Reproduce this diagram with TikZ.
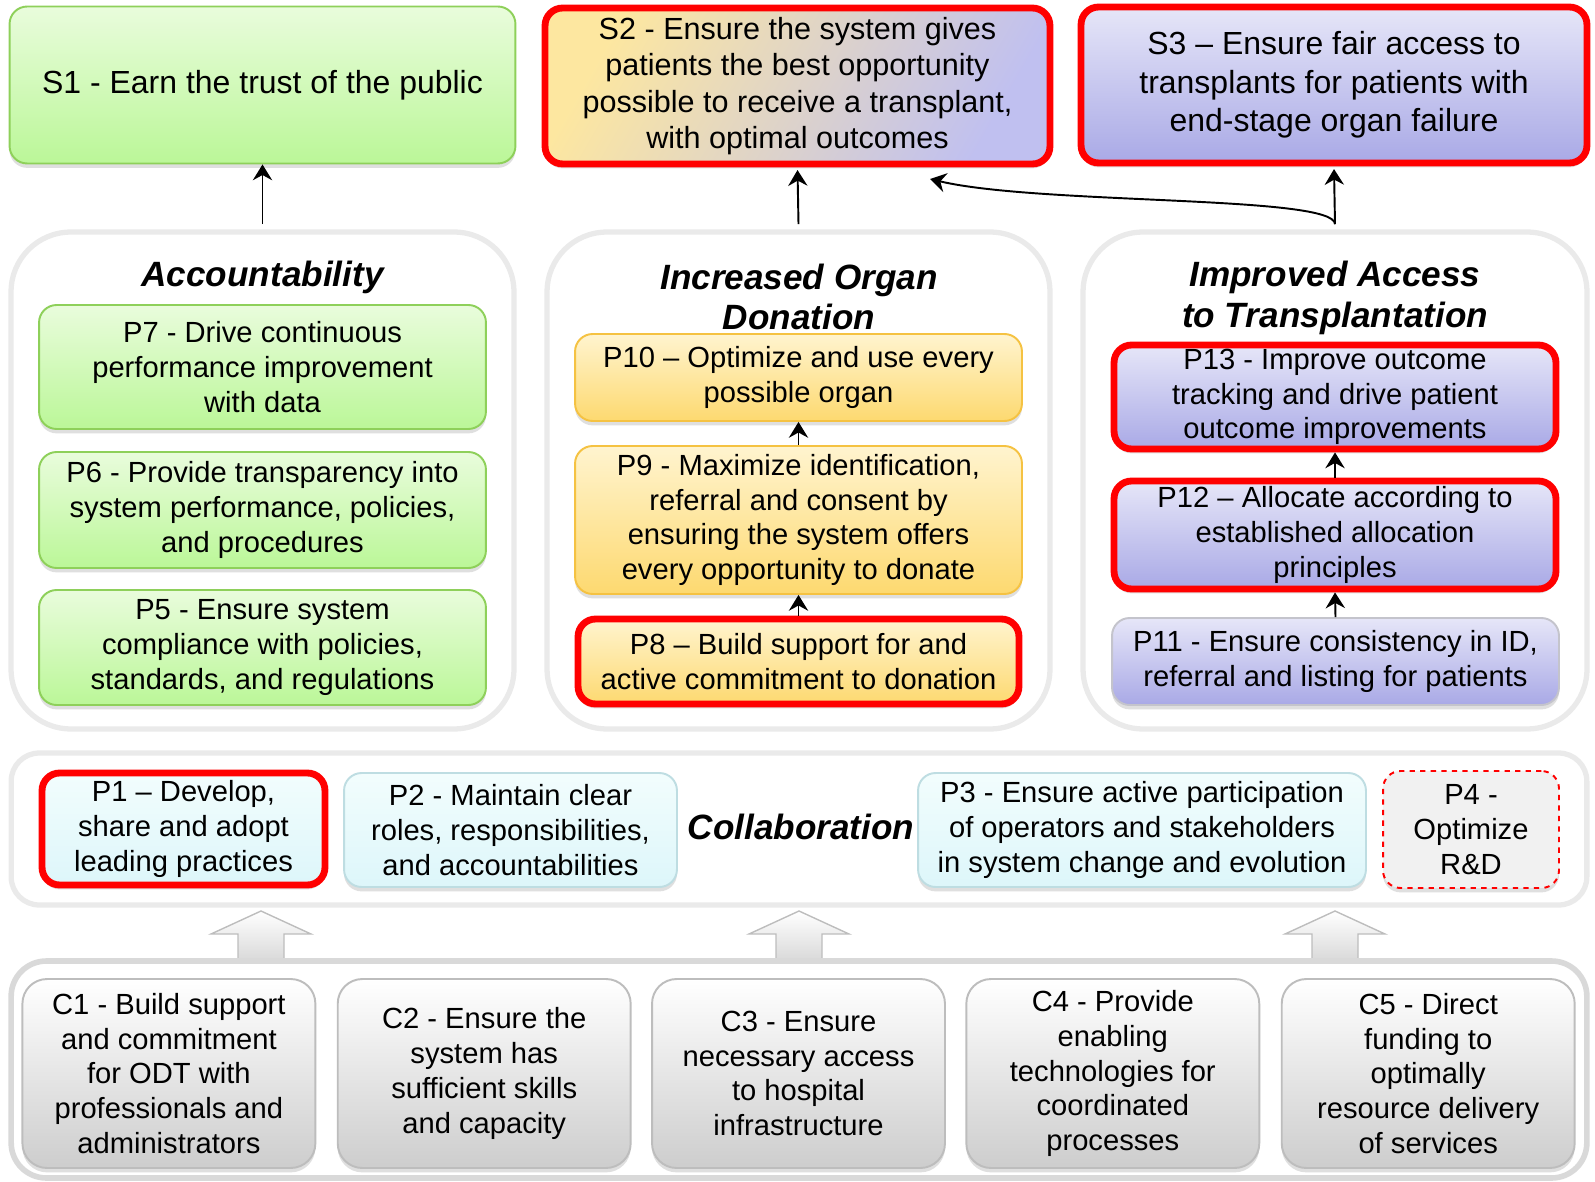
\documentclass[tikz,border=0pt]{standalone}
\usepackage{fontspec}
\setmainfont{Liberation Sans}
\usetikzlibrary{arrows.meta,positioning,shadows}

\definecolor{greentop}{HTML}{E9FCDC}
\definecolor{greenbot}{HTML}{BBF798}
\definecolor{greenline}{HTML}{8ED05A}
\definecolor{yellowtop}{HTML}{FFF4CF}
\definecolor{yellowbot}{HTML}{FDD970}
\definecolor{yellowline}{HTML}{F5C242}
\definecolor{bluetop}{HTML}{E6E6F8}
\definecolor{bluebot}{HTML}{A9A9E6}
\definecolor{blueline}{HTML}{C4C4CC}
\definecolor{s2top}{HTML}{FDE7A0}
\definecolor{s2bot}{HTML}{C0C0F0}
\definecolor{cyantop}{HTML}{F2FDFD}
\definecolor{cyanbot}{HTML}{DDF6FA}
\definecolor{cyanline}{HTML}{BEDDE2}
\definecolor{rdfill}{HTML}{F1F1F1}
\definecolor{capbot}{HTML}{CDCDCD}
\definecolor{capline}{HTML}{BDBDBD}
\definecolor{panelline}{HTML}{EAEAEA}
\definecolor{baseline}{HTML}{D9D9D9}
\definecolor{hotred}{HTML}{FF0000}

\tikzset{
  box/.style={rounded corners=10pt, draw, line width=1.1pt, align=center, inner sep=2pt,
    font=\fontsize{16.6}{19.8}\selectfont,
    drop shadow={shadow xshift=0pt, shadow yshift=-2.5pt, opacity=0.25}},
  sbox/.style={box, font=\fontsize{18.2}{21}\selectfont},
  greenbox/.style={box, draw=greenline, top color=greentop, bottom color=greenbot},
  yellowbox/.style={box, draw=yellowline, top color=yellowtop, bottom color=yellowbot},
  bluebox/.style={box, draw=blueline, top color=bluetop, bottom color=bluebot},
  cyanbox/.style={box, draw=cyanline, top color=cyantop, bottom color=cyanbot},
  capbox/.style={box, rounded corners=14pt, draw=capline, top color=white, bottom color=capbot},
  redline/.style={draw=hotred, line width=3.9pt},
  panel/.style={draw=panelline, line width=3pt, fill=white, rounded corners=34pt},
  title/.style={font=\fontsize{20}{23.2}\selectfont\bfseries\itshape, align=center},
  link/.style={-{Stealth[length=9pt, width=11pt, inset=3pt]}, line width=1.1pt},
  blockarrow/.style={draw=capline, line width=0.8pt, top color=white, bottom color=gray!30}
}

\begin{document}
\begin{tikzpicture}[x=0.02cm, y=-0.02cm]
\useasboundingbox (0,0) rectangle (1595,1182);

% Group panels
\node[panel, minimum width=10.06cm, minimum height=9.94cm] (acc) at (262.5,480.5) {};
\node[panel, minimum width=10.06cm, minimum height=9.94cm] (don) at (798.5,480.5) {};
\node[panel, minimum width=10.08cm, minimum height=9.94cm] (imp) at (1335,480.5) {};
\node[panel, rounded corners=16pt, minimum width=31.52cm, minimum height=3.04cm] (col) at (799,829) {};

% Block arrows into collaboration
\draw[blockarrow] (238,961) -- (238,934) -- (211,934) -- (261,911) -- (311,934) -- (284,934) -- (284,961);
\draw[blockarrow] (776,961) -- (776,934) -- (749,934) -- (799,911) -- (849,934) -- (822,934) -- (822,961);
\draw[blockarrow] (1312,961) -- (1312,934) -- (1285,934) -- (1335,911) -- (1385,934) -- (1358,934) -- (1358,961);

\node[panel, draw=baseline, line width=3.2pt, rounded corners=20pt, minimum width=31.52cm, minimum height=4.34cm] (cap) at (799,1069.5) {};

% Strategic goals
\node[sbox, draw=greenline, top color=greentop, bottom color=greenbot,
  minimum width=10.12cm, minimum height=3.14cm] (s1) at (262.5,85) {S1 - Earn the trust of the public};
\node[sbox, redline, top color=s2top, bottom color=s2bot, shading angle=60,
  font=\fontsize{17.4}{20.8}\selectfont,
  minimum width=10.1cm, minimum height=3.12cm] (s2) at (797.5,86)
  {S2 - Ensure the system gives\\patients the best opportunity\\possible to receive a transplant,\\with optimal outcomes};
\node[sbox, redline, top color=bluetop, bottom color=bluebot,
  font=\fontsize{18.2}{22}\selectfont,
  minimum width=10.12cm, minimum height=3.12cm] (s3) at (1334,85)
  {S3 – Ensure fair access to\\transplants for patients with\\end-stage organ failure};

% Panel titles
\node[title] (acct) at (262.5,277) {Accountability};
\node[title] (dont) at (799,297) {Increased Organ\\Donation};
\node[title] (impt) at (1335,298) {Improved Access\\to Transplantation};

% Accountability
\node[greenbox, minimum width=8.94cm, minimum height=2.48cm] (p7) at (262.5,367)
  {P7 - Drive continuous\\performance improvement\\with data};
\node[greenbox, minimum width=8.94cm, minimum height=2.32cm] (p6) at (262.5,510)
  {P6 - Provide transparency into\\system performance, policies,\\and procedures};
\node[greenbox, minimum width=8.94cm, minimum height=2.30cm] (p5) at (262.5,647.5)
  {P5 - Ensure system\\compliance with policies,\\standards, and regulations};

% Increased organ donation
\node[yellowbox, minimum width=8.94cm, minimum height=1.74cm] (p10) at (798.5,377.5)
  {P10 – Optimize and use every\\possible organ};
\node[yellowbox, minimum width=8.94cm, minimum height=2.96cm] (p9) at (798.5,520)
  {P9 - Maximize identification,\\referral and consent by\\ensuring the system offers\\every opportunity to donate};
\node[yellowbox, redline, minimum width=8.82cm, minimum height=1.70cm] (p8) at (798.5,661.5)
  {P8 – Build support for and\\active commitment to donation};

% Improved access
\node[bluebox, redline, minimum width=8.84cm, minimum height=2.08cm] (p13) at (1335,397)
  {P13 - Improve outcome\\tracking and drive patient\\outcome improvements};
\node[bluebox, redline, minimum width=8.84cm, minimum height=2.16cm] (p12) at (1335,535)
  {P12 – Allocate according to\\established allocation\\principles};
\node[bluebox, minimum width=8.94cm, minimum height=1.74cm] (p11) at (1335.5,661.5)
  {P11 - Ensure consistency in ID,\\referral and listing for patients};

% Collaboration
\node[cyanbox, redline, minimum width=5.66cm, minimum height=2.24cm] (p1) at (183.5,829)
  {P1 – Develop,\\share and adopt\\leading practices};
\node[cyanbox, minimum width=6.66cm, minimum height=2.28cm] (p2) at (510.5,830)
  {P2 - Maintain clear\\roles, responsibilities,\\and accountabilities};
\node[title] (colt) at (801,827) {Collaboration};
\node[cyanbox, minimum width=8.96cm, minimum height=2.28cm] (p3) at (1142,830)
  {P3 - Ensure active participation\\of operators and stakeholders\\in system change and evolution};
\node[box, draw=hotred, dashed, fill=rdfill, minimum width=3.52cm, minimum height=2.34cm] (p4) at (1471,829.5)
  {P4 -\\Optimize\\R\&D};

% Capabilities
\node[capbox, minimum width=5.86cm, minimum height=3.78cm] (c1) at (168.9,1073.5)
  {C1 - Build support\\and commitment\\for ODT with\\professionals and\\administrators};
\node[capbox, minimum width=5.86cm, minimum height=3.78cm] (c2) at (484.2,1073.5)
  {C2 - Ensure the\\system has\\sufficient skills\\and capacity};
\node[capbox, minimum width=5.86cm, minimum height=3.78cm] (c3) at (798.5,1073.5)
  {C3 - Ensure\\necessary access\\to hospital\\infrastructure};
\node[capbox, minimum width=5.86cm, minimum height=3.78cm] (c4) at (1112.8,1073.5)
  {C4 - Provide\\enabling\\technologies for\\coordinated\\processes};
\node[capbox, minimum width=5.86cm, minimum height=3.78cm] (c5) at (1428.2,1073.5)
  {C5 - Direct\\funding to\\optimally\\resource delivery\\of services};

% Links
\draw[link] ([yshift=3pt]acc.north) -- (s1.south);
\draw[link] ([yshift=3pt]don.north) -- ([yshift=-1.5pt]s2.south);
\draw[link] ([yshift=3pt]imp.north) -- ([yshift=-1.5pt]s3.south);
\coordinate (s2in) at (930,179);
\draw[link] ([yshift=3pt]imp.north) .. controls (1335,195) and (1040,205) .. (s2in);
\draw[link] (p8.north) -- (p9.south);
\draw[link] (p9.north) -- (p10.south);
\draw[link] (p11.north) -- (p12.south);
\draw[link] (p12.north) -- (p13.south);
\end{tikzpicture}
\end{document}
